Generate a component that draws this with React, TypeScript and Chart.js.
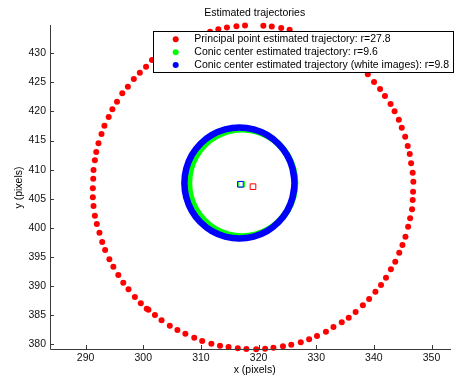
import { useEffect, useRef } from "react";
import { Chart, registerables } from "chart.js";

Chart.register(...registerables);

// ---- data ----
const redX = [
  317.88, 316.4, 314.79, 313.31, 311.81, 310.22, 308.84, 307.3, 305.92, 304.6,
  303.17, 302.02, 300.9, 300.6, 299.57, 298.54, 297.44, 296.53, 295.67, 294.81,
  294.12, 293.38, 292.87, 292.4, 291.94, 291.6, 291.37, 291.25, 291.25, 291.32,
  291.37, 291.6, 291.84, 292.23, 292.75, 293.26, 294.0, 294.64, 295.44, 296.36,
  297.33, 298.36, 299.4, 300.48, 301.51, 302.71, 303.91, 305.29, 306.66, 308.03,
  309.41, 311.59, 313.02, 314.51, 316.16, 317.65, 320.83, 322.29, 323.92, 325.38,
  328.3, 329.68, 331.05, 332.43, 333.8, 335.09, 336.38, 337.66, 338.95, 340.03,
  341.07, 341.92, 342.9, 343.59, 344.33, 344.84, 345.43, 345.87, 346.22, 346.46,
  346.73, 346.85, 346.8, 346.73, 346.63, 346.29, 345.94, 345.48, 344.96, 344.4,
  343.71, 342.95, 342.1, 341.24, 340.27, 339.18, 338.09, 336.84, 335.64, 334.43,
  332.99, 331.69, 330.14, 328.77, 327.32, 325.67, 324.23, 322.58, 321.14, 319.59,
];
const redY = [
  379.19, 379.31, 379.54, 379.76, 380.1, 380.57, 381.13, 381.82, 382.46, 383.2,
  384.12, 385.03, 385.95, 386.1, 387.04, 388.13, 389.45, 390.58, 391.91, 393.33,
  394.6, 396.2, 397.58, 399.18, 400.67, 402.1, 403.76, 405.26, 406.8, 408.45,
  409.95, 411.62, 413.04, 414.54, 416.13, 417.56, 419.05, 420.38, 421.68, 423.13,
  424.26, 425.58, 426.67, 427.7, 428.85, 430.05, 431.08, 431.94, 432.63, 433.14,
  433.32, 433.71, 434.12, 434.43, 434.66, 434.78, 434.74, 434.6, 434.35, 434.05,
  433.01, 432.37, 431.63, 430.82, 429.97, 429.02, 428.08, 427.13, 426.39, 425.07,
  423.87, 422.66, 421.29, 420.03, 418.59, 417.22, 415.67, 414.07, 412.7, 411.1,
  409.48, 407.94, 406.22, 404.79, 403.2, 401.65, 400.21, 398.49, 397.06, 395.74,
  394.19, 392.89, 391.44, 390.19, 389.04, 387.78, 386.7, 385.55, 384.57, 383.78,
  382.97, 382.16, 381.43, 380.86, 380.34, 379.93, 379.66, 379.42, 379.24, 379.14,
];

const greenX = [
  326.33, 326.02, 325.1, 323.64, 321.73, 319.51, 317.13, 314.75, 312.53, 310.63,
  309.16, 308.24, 307.93, 308.24, 309.16, 310.63, 312.53, 314.75, 317.13, 319.51,
  321.73, 323.64, 325.1, 326.02,
];
const greenY = [
  407.73, 410.11, 412.33, 414.24, 415.7, 416.62, 416.93, 416.62, 415.7, 414.24,
  412.33, 410.11, 407.73, 405.35, 403.13, 401.23, 399.76, 398.84, 398.53, 398.84,
  399.76, 401.23, 403.13, 405.35,
];

const blueX = [
  326.23, 325.9, 324.95, 323.43, 321.46, 319.15, 316.68, 314.21, 311.91, 309.93,
  308.41, 307.46, 307.13, 307.46, 308.41, 309.93, 311.91, 314.21, 316.68, 319.15,
  321.46, 323.43, 324.95, 325.9,
];
const blueY = [
  407.71, 410.18, 412.49, 414.46, 415.98, 416.93, 417.26, 416.93, 415.98, 414.46,
  412.49, 410.18, 407.71, 405.24, 402.94, 400.96, 399.44, 398.49, 398.16, 398.49,
  399.44, 400.96, 402.94, 405.24,
];

const redCenter = { x: 319.03, y: 407.08 };
const greenCenter = { x: 317.05, y: 407.5 };
const blueCenter = { x: 316.85, y: 407.49 };

const xTicks = [290, 300, 310, 320, 330, 340, 350];
const yTicks = [380, 385, 390, 395, 400, 405, 410, 415, 420, 425, 430];

const legendLabels = [
  "Principal point estimated trajectory: r=27.8",
  "Conic center estimated trajectory: r=9.6",
  "Conic center estimated trajectory (white images): r=9.8",
];
const legendColors = ["#ff0000", "#00ff00", "#0000ff"];
const titleText = "Estimated trajectories";
const xLabel = "x (pixels)";
const yLabel = "y (pixels)";

// ---- helpers ----
const zip = (xs: number[], ys: number[]) => xs.map((x, i) => ({ x, y: ys[i] }));
// closed ring: wrap one point before and two after so the smooth curve has no seam
const ring = (xs: number[], ys: number[]) => {
  const pts = zip(xs, ys);
  return [pts[pts.length - 1], ...pts, pts[0], pts[1]];
};

const FONT_FAMILY = '"Liberation Sans", Arial, Helvetica, sans-serif';
const FONT_SIZE = 10.5;
const FONT = `${FONT_SIZE}px ${FONT_FAMILY}`;
const AXIS_COLOR = "#3a3a3a";

const overlayPlugin = {
  id: "overlay",
  afterDatasetsDraw(chart: any) {
    const { ctx, chartArea: a } = chart;
    const xs = chart.scales.x;
    const ys = chart.scales.y;
    ctx.save();
    // axes lines
    ctx.strokeStyle = AXIS_COLOR;
    ctx.lineWidth = 1;
    ctx.beginPath();
    ctx.moveTo(a.left + 0.5, a.top);
    ctx.lineTo(a.left + 0.5, a.bottom + 0.5);
    ctx.lineTo(a.right, a.bottom + 0.5);
    // inward ticks
    xTicks.forEach((v) => {
      const px = Math.round(xs.getPixelForValue(v)) + 0.5;
      ctx.moveTo(px, a.bottom);
      ctx.lineTo(px, a.bottom - 4);
    });
    yTicks.forEach((v) => {
      const py = Math.round(ys.getPixelForValue(v)) + 0.5;
      ctx.moveTo(a.left, py);
      ctx.lineTo(a.left + 4, py);
    });
    ctx.stroke();

    // legend box
    const bx = 153, by = 31, bw = 301, bh = 42;
    ctx.fillStyle = "#fff";
    ctx.fillRect(bx, by, bw, bh);
    ctx.strokeStyle = "#000";
    ctx.lineWidth = 1;
    ctx.strokeRect(bx + 0.5, by + 0.5, bw - 1, bh - 1);
    const rows = [39.3, 52.3, 65];
    ctx.font = FONT;
    ctx.textBaseline = "middle";
    ctx.textAlign = "left";
    legendLabels.forEach((lab, i) => {
      ctx.fillStyle = legendColors[i];
      ctx.beginPath();
      ctx.arc(175.7, rows[i], 3, 0, Math.PI * 2);
      ctx.fill();
      ctx.fillStyle = "#000";
      ctx.fillText(lab, 194.3, rows[i]);
    });

    // title & axis titles
    ctx.fillStyle = "#000";
    ctx.textAlign = "center";
    ctx.fillText(titleText, 254.7, 13.3);
    ctx.fillText(xLabel, 254.7, 370);
    ctx.translate(19.2, 187.5);
    ctx.rotate(-Math.PI / 2);
    ctx.fillText(yLabel, 0, 0);
    ctx.restore();
  },
};

export default function App() {
  const ref = useRef<HTMLCanvasElement | null>(null);

  useEffect(() => {
    if (!ref.current) return;
    const square = (c: { x: number; y: number }, color: string) => ({
      type: "scatter" as const,
      data: [c],
      showLine: false,
      pointStyle: "rect",
      pointRadius: 4,
      pointBorderWidth: 1,
      pointBorderColor: color,
      pointBackgroundColor: "rgba(0,0,0,0)",
      clip: false as any,
    });
    const ringDs = (xs: number[], ys: number[], color: string) => ({
      type: "scatter" as const,
      data: ring(xs, ys),
      showLine: true,
      tension: 0.4,
      borderColor: color,
      borderWidth: 6.5,
      pointRadius: 0,
      fill: false,
    });
    const chart = new Chart(ref.current, {
      type: "scatter",
      data: {
        datasets: [
          square(blueCenter, "#0000ff"),
          square(greenCenter, "#00ff00"),
          square(redCenter, "#ff0000"),
          ringDs(blueX, blueY, "#0000ff"),
          ringDs(greenX, greenY, "#00ff00"),
          {
            type: "scatter",
            data: zip(redX, redY),
            showLine: false,
            pointRadius: 3,
            pointBorderWidth: 0,
            pointBackgroundColor: "#ff0000",
            pointBorderColor: "#ff0000",
            clip: false as any,
          },
        ] as any,
      },
      options: {
        animation: false,
        responsive: false,
        maintainAspectRatio: false,
        layout: { padding: { top: 25, right: 1, left: 0, bottom: 0 } },
        plugins: {
          legend: { display: false },
          tooltip: { enabled: false },
          title: { display: false },
        },
        scales: {
          x: {
            type: "linear",
            min: 283.82,
            max: 353.38,
            afterBuildTicks: (s: any) => {
              s.ticks = xTicks.map((value) => ({ value }));
            },
            afterFit: (s: any) => {
              s.height = 30;
            },
            ticks: {
              font: { family: FONT_FAMILY, size: FONT_SIZE },
              color: "#111",
              padding: 3,
              maxRotation: 0,
              autoSkip: false,
            },
            grid: { display: false, drawTicks: false },
            border: { display: false },
          },
          y: {
            type: "linear",
            min: 379.19,
            max: 434.86,
            afterBuildTicks: (s: any) => {
              s.ticks = yTicks.map((value) => ({ value }));
            },
            afterFit: (s: any) => {
              s.width = 50;
            },
            ticks: {
              font: { family: FONT_FAMILY, size: FONT_SIZE },
              color: "#111",
              padding: 4,
              autoSkip: false,
            },
            grid: { display: false, drawTicks: false },
            border: { display: false },
          },
        },
      },
      plugins: [overlayPlugin],
    });
    return () => chart.destroy();
  }, []);

  return (
    <canvas
      ref={ref}
      width={456}
      height={379}
      style={{ position: "absolute", left: 0, top: 0, width: 456, height: 379, display: "block" }}
    />
  );
}
